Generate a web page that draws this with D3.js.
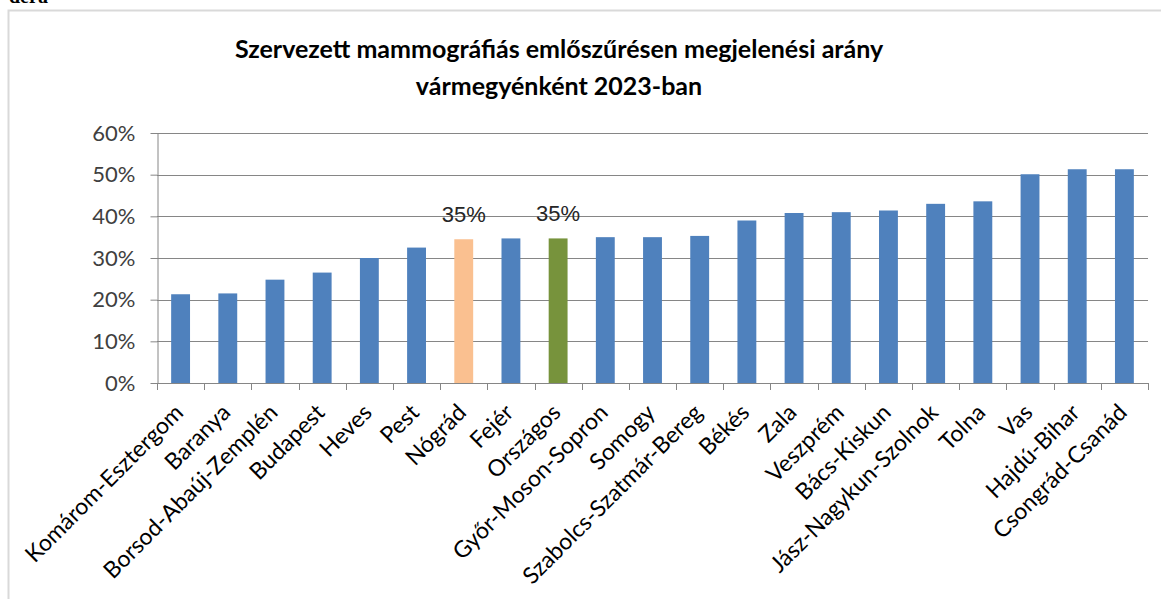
<!DOCTYPE html>
<meta charset="utf-8">
<script src="https://d3js.org/d3.v7.min.js"></script>
<style>
body { margin: 0; background: #fff; }
text { font-family: Lato, "Open Sans", sans-serif; }
</style>
<body>
<div id="chart"></div>
</body>
<script>

// data
const counties = ["Komárom-Esztergom", "Baranya", "Borsod-Abaúj-Zemplén", "Budapest", "Heves", "Pest",
	"Nógrád", "Fejér", "Országos", "Győr-Moson-Sopron", "Somogy", "Szabolcs-Szatmár-Bereg", "Békés",
	"Zala", "Veszprém", "Bács-Kiskun", "Jász-Nagykun-Szolnok", "Tolna", "Vas", "Hajdú-Bihar", "Csongrád-Csanád"];
const rates = [0.213, 0.215, 0.248, 0.265, 0.300, 0.325, 0.345, 0.347, 0.347, 0.350, 0.350, 0.353, 0.390,
	0.408, 0.410, 0.414, 0.430, 0.436, 0.501, 0.513, 0.513];
const highlighted = {"Nógrád": "#FAC090", "Országos": "#77933C"};
const shownLabels = ["Nógrád", "Országos"];
const yTicks = [0, 0.1, 0.2, 0.3, 0.4, 0.5, 0.6];
const titleLines = ["Szervezett mammográfiás emlőszűrésen megjelenési arány", "vármegyénként 2023-ban"];

const W = 1161, H = 599;
const margin = {top: 133, right: 13, bottom: 216, left: 157};

const svg = d3.select("#chart").append("svg")
	.attr("width", W)
	.attr("height", H);

// stray text from the page above, cut off at the top
svg.append("text")
	.attr("x", 9).attr("y", 3)
	.style("font-family", "'Liberation Serif', serif")
	.style("font-size", "20px")
	.style("font-weight", "bold")
	.text("dera");

// chart area border
svg.append("rect")
	.attr("x", 8.5).attr("y", 10.5)
	.attr("width", 1160).attr("height", 600)
	.attr("fill", "none")
	.attr("stroke", "#d9d9d9")
	.attr("stroke-width", 2);

svg.selectAll(".title")
	.data(titleLines)
	.enter().append("text")
	.attr("class", "title")
	.attr("x", 559)
	.attr("y", (d, i) => 58 + i * 37)
	.attr("text-anchor", "middle")
	.style("font-size", "25px")
	.style("font-weight", "bold")
	.style("fill", "#000")
	.text(d => d);

const x = d3.scaleBand()
	.domain(counties)
	.range([margin.left, W - margin.right])
	.paddingInner(0.6)
	.paddingOuter(0.3);

const y = d3.scaleLinear()
	.domain([0, 0.6])
	.range([H - margin.bottom, margin.top]);

// gridlines
svg.append("g")
	.selectAll("line")
	.data(yTicks.slice(1))
	.enter().append("line")
	.attr("x1", margin.left)
	.attr("x2", W - margin.right)
	.attr("y1", d => Math.round(y(d)) + 0.5)
	.attr("y2", d => Math.round(y(d)) + 0.5)
	.attr("stroke", "#868686")
	.attr("stroke-width", 1);

// y axis
const yAxis = svg.append("g")
	.attr("transform", `translate(${margin.left + 0.5},0)`)
	.call(d3.axisLeft(y).tickValues(yTicks).tickFormat(d3.format(".0%")).tickSize(7).tickSizeOuter(0));
yAxis.select(".domain").attr("stroke", "#868686");
yAxis.selectAll(".tick line").attr("stroke", "#868686");
yAxis.selectAll(".tick text")
	.attr("x", -22)
	.style("font-family", "Lato, sans-serif")
	.style("font-size", "22px")
	.style("fill", "#404040");

// bars
svg.append("g")
	.selectAll("rect")
	.data(counties)
	.enter().append("rect")
	.attr("x", d => x(d))
	.attr("width", x.bandwidth())
	.attr("y", (d, i) => y(rates[i]))
	.attr("height", (d, i) => y(0) - y(rates[i]))
	.attr("fill", d => highlighted[d] || "#4F81BD");

// x axis with category boundary ticks
const bounds = d3.range(counties.length + 1).map(i => margin.left + i * (W - margin.right - margin.left) / counties.length);
const xAxis = svg.append("g");
xAxis.append("line")
	.attr("x1", margin.left).attr("x2", W - margin.right)
	.attr("y1", Math.round(y(0)) + 0.5).attr("y2", Math.round(y(0)) + 0.5)
	.attr("stroke", "#868686");
xAxis.selectAll(".tk")
	.data(bounds)
	.enter().append("line")
	.attr("class", "tk")
	.attr("x1", d => Math.round(d) + 0.5).attr("x2", d => Math.round(d) + 0.5)
	.attr("y1", Math.round(y(0))).attr("y2", Math.round(y(0)) + 7)
	.attr("stroke", "#868686");

xAxis.selectAll(".lbl")
	.data(counties)
	.enter().append("text")
	.attr("class", "lbl")
	.attr("text-anchor", "end")
	.attr("transform", d => `translate(${x(d) + x.bandwidth() / 2 + 4},${y(0) + 31}) rotate(-45)`)
	.style("font-size", "23px")
	.style("fill", "#000")
	.text(d => d);

// value labels
svg.append("g")
	.selectAll("text")
	.data(shownLabels)
	.enter().append("text")
	.attr("x", d => x(d) + x.bandwidth() / 2)
	.attr("y", d => y(rates[counties.indexOf(d)]) - 17)
	.attr("text-anchor", "middle")
	.style("font-family", "'Liberation Sans', Arial, sans-serif")
	.style("font-size", "22px")
	.style("fill", "#262626")
	.text(d => d3.format(".0%")(rates[counties.indexOf(d)]));

</script>
